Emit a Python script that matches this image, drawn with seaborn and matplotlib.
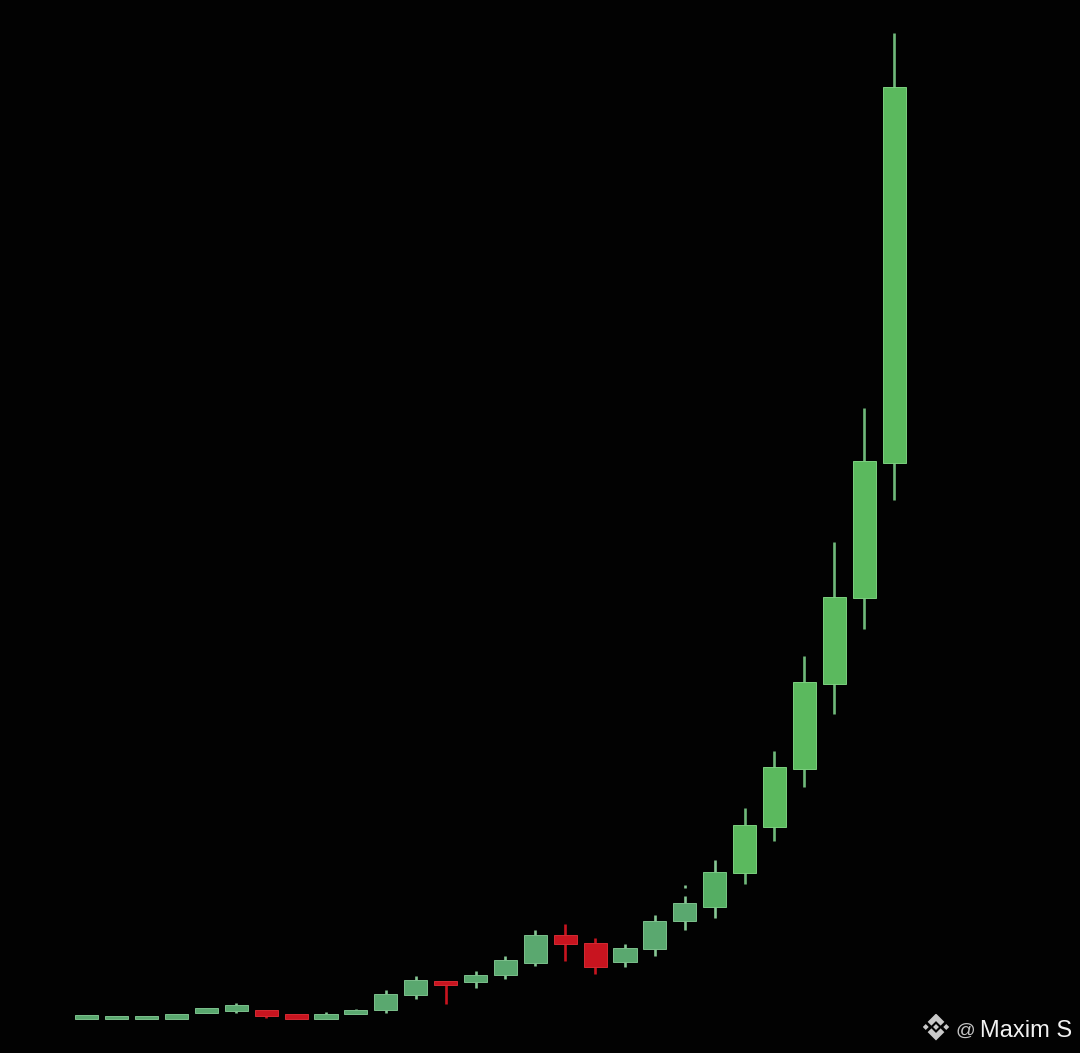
import numpy as np
import pandas as pd
import matplotlib.pyplot as plt
from matplotlib.patches import Polygon
import seaborn as sns

# candle values
opens = [34.5, 34, 34, 34, 40, 42, 43, 39, 34, 39, 43, 58, 72, 71, 78, 90, 118, 110, 91, 104, 132, 146, 180, 226, 284, 369, 455, 590]
closes = [38, 37, 37, 39.5, 45, 48, 37, 34, 39, 43, 59, 73, 68, 78, 93, 118, 109, 86, 105, 132, 150, 181, 228, 286, 371, 456, 592, 966]
highs = [38, 37, 37, 39.5, 45, 50, 43, 39, 41, 44.5, 63, 77, 72, 82, 97, 123, 129, 115, 109, 138, 157, 193, 245, 302, 397, 511, 645, 1020]
lows = [34.5, 34, 34, 34, 40, 40, 35, 34, 34, 39, 40, 54, 49, 65, 74, 87, 92, 79, 86, 97, 123, 135, 169, 212, 266, 339, 424, 553]

# the stray tick above candle 20
stray_period = [20]
stray_low = [165]
stray_high = [168]

BG = '#020202'
RED = '#c8141f'
GREEN_DULL = '#5aa86f'
GREEN_MID = '#55ae63'
GREEN_BRIGHT = '#5bb95e'

df = pd.DataFrame({'open': opens, 'close': closes, 'high': highs, 'low': lows})
df['period'] = df.index
df['body_low'] = df[['open', 'close']].min(axis=1)
df['body'] = (df['open'] - df['close']).abs()

sns.set_theme(style='dark')
plt.rcParams['font.family'] = ['Liberation Sans', 'DejaVu Sans']

fig = plt.figure(figsize=(10.8, 10.53), dpi=100, facecolor=BG)
ax = fig.add_axes([0, 0, 1, 1], facecolor=BG)

for i, row in df.iterrows():
    if row['close'] < row['open']:
        body_col, edge_col, wick_col = RED, '#d42a33', RED
    elif i < 21:
        body_col, edge_col, wick_col = GREEN_DULL, '#7cc08c', '#86c794'
    elif i < 22:
        body_col, edge_col, wick_col = GREEN_MID, '#78c884', '#86c794'
    else:
        body_col, edge_col, wick_col = GREEN_BRIGHT, '#7cd07f', '#6fb97a'

    ax.vlines(row['period'], row['low'], row['high'], color=wick_col, lw=1.9, zorder=1)
    sns.barplot(x=[row['period']], y=[row['body']], bottom=row['body_low'], native_scale=True,
                color=body_col, saturation=1, width=0.77, edgecolor=edge_col, linewidth=0.7,
                ax=ax, zorder=2)

ax.vlines(stray_period, stray_low, stray_high, color='#86c794', lw=1.9)

# best straight fit of the candle spacing in pixels
ax.set_xlim(-86.8 / 29.9, (1080 - 86.8) / 29.9)
ax.set_ylim(0, 1053)
ax.set_axis_off()

# binance mark + handle, bottom right
logo = fig.add_axes([922.5 / 1080, 1 - 1040.5 / 1053, 27 / 1080, 27 / 1053])
logo.set_xlim(-1, 1)
logo.set_ylim(-1, 1)
logo.set_axis_off()
r = 0.22
for cx, cy in [(0, 0), (-0.76, 0), (0.76, 0)]:
    logo.add_patch(Polygon([(cx - r, cy), (cx, cy + r), (cx + r, cy), (cx, cy - r)], color='#c9c9c9', lw=0))
for s in [1, -1]:
    logo.add_patch(Polygon([(0, s), (0.62, 0.38 * s), (0.34, 0.1 * s), (0, 0.44 * s),
                            (-0.34, 0.1 * s), (-0.62, 0.38 * s)], color='#c9c9c9', lw=0))

fig.text(955.5 / 1080, 1 - 1035.5 / 1053, '@', color='#c4c4c4', fontsize=14, ha='left', va='baseline')
fig.text(979.5 / 1080, 1 - 1037 / 1053, 'Maxim S', color='#f2f2f2', fontsize=17, ha='left', va='baseline')

fig.savefig('out.png', dpi=100, facecolor=BG)
